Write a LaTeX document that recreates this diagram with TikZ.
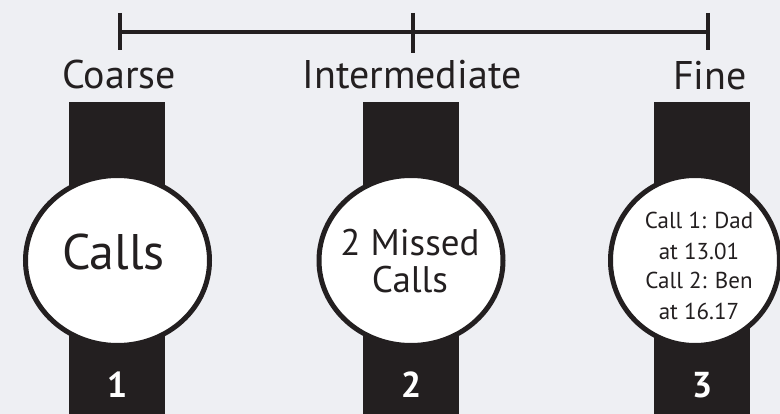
\documentclass[tikz,border=0pt]{standalone}
\usepackage{fontspec}
\setmainfont{PT Sans}
\usetikzlibrary{shapes.geometric}
\definecolor{ink}{HTML}{231F20}
\definecolor{paper}{HTML}{EEEFF3}
\begin{document}
\begin{tikzpicture}[x=1pt,y=-1pt,
  band/.style={fill=ink, inner sep=0pt, minimum width=96pt, minimum height=313pt, anchor=north},
  face/.style={ellipse, draw=ink, fill=white, line width=5pt, inner sep=0pt,
               minimum width=184pt, minimum height=170pt},
  level/.style={font=\fontsize{40}{48}\selectfont, text=ink, anchor=base, inner sep=0pt},
  bigtxt/.style={font=\fontsize{50}{60}\selectfont, text=ink, anchor=base, inner sep=0pt},
  midtxt/.style={font=\fontsize{37}{44}\selectfont, text=ink, anchor=base, inner sep=0pt},
  smalltxt/.style={font=\fontsize{23}{28}\selectfont, text=ink, anchor=base, inner sep=0pt},
  num/.style={font=\fontsize{36}{42}\selectfont\bfseries, text=white, anchor=base, inner sep=0pt},
  rule/.style={draw=ink, line width=3.4pt}]
% background and page size
\fill[paper] (0,0) rectangle (780,414);
\useasboundingbox (0,0) rectangle (780,414);

% granularity scale
\coordinate (s1) at (120,32);
\coordinate (s2) at (413,32);
\coordinate (s3) at (708,32);
\coordinate (s1t) at (120,13); \coordinate (s1b) at (120,50);
\coordinate (s2t) at (413,13); \coordinate (s2b) at (413,53);
\coordinate (s3t) at (708,13); \coordinate (s3b) at (708,50);
\draw[rule] (s1) -- (s3);
\draw[rule] (s1t) -- (s1b);
\draw[rule] (s2t) -- (s2b);
\draw[rule] (s3t) -- (s3b);

\node[level] (coarse) at (119,89) {Coarse};
\node[level] (inter) at (412,89) {Intermediate};
\node[level] (fine) at (710,90) {Fine};

% watch straps
\node[band] (band1) at (117,102) {};
\node[band] (band2) at (411,102) {};
\node[band] (band3) at (702,102) {};

% watch faces
\node[face] (face1) at (117.5,260.5) {};
\node[face] (face2) at (411,260.5) {};
\node[face, minimum width=169pt] (face3) at (695,260.5) {};

% face texts
\node[bigtxt] (calls) at (113.5,270) {Calls};
\node[midtxt] (missA) at (410,256) {2 Missed};
\node[midtxt] (missB) at (410,293) {Calls};
\node[smalltxt] (fineA) at (699,229) {Call 1: Dad};
\node[smalltxt] (fineB) at (699,260) {at 13.01};
\node[smalltxt] (fineC) at (699,289) {Call 2: Ben};
\node[smalltxt] (fineD) at (699,320) {at 16.17};

% strap numbers
\node[num] (n1) at (117,397) {1};
\node[num] (n2) at (411,397) {2};
\node[num] (n3) at (702,397) {3};
\end{tikzpicture}
\end{document}
